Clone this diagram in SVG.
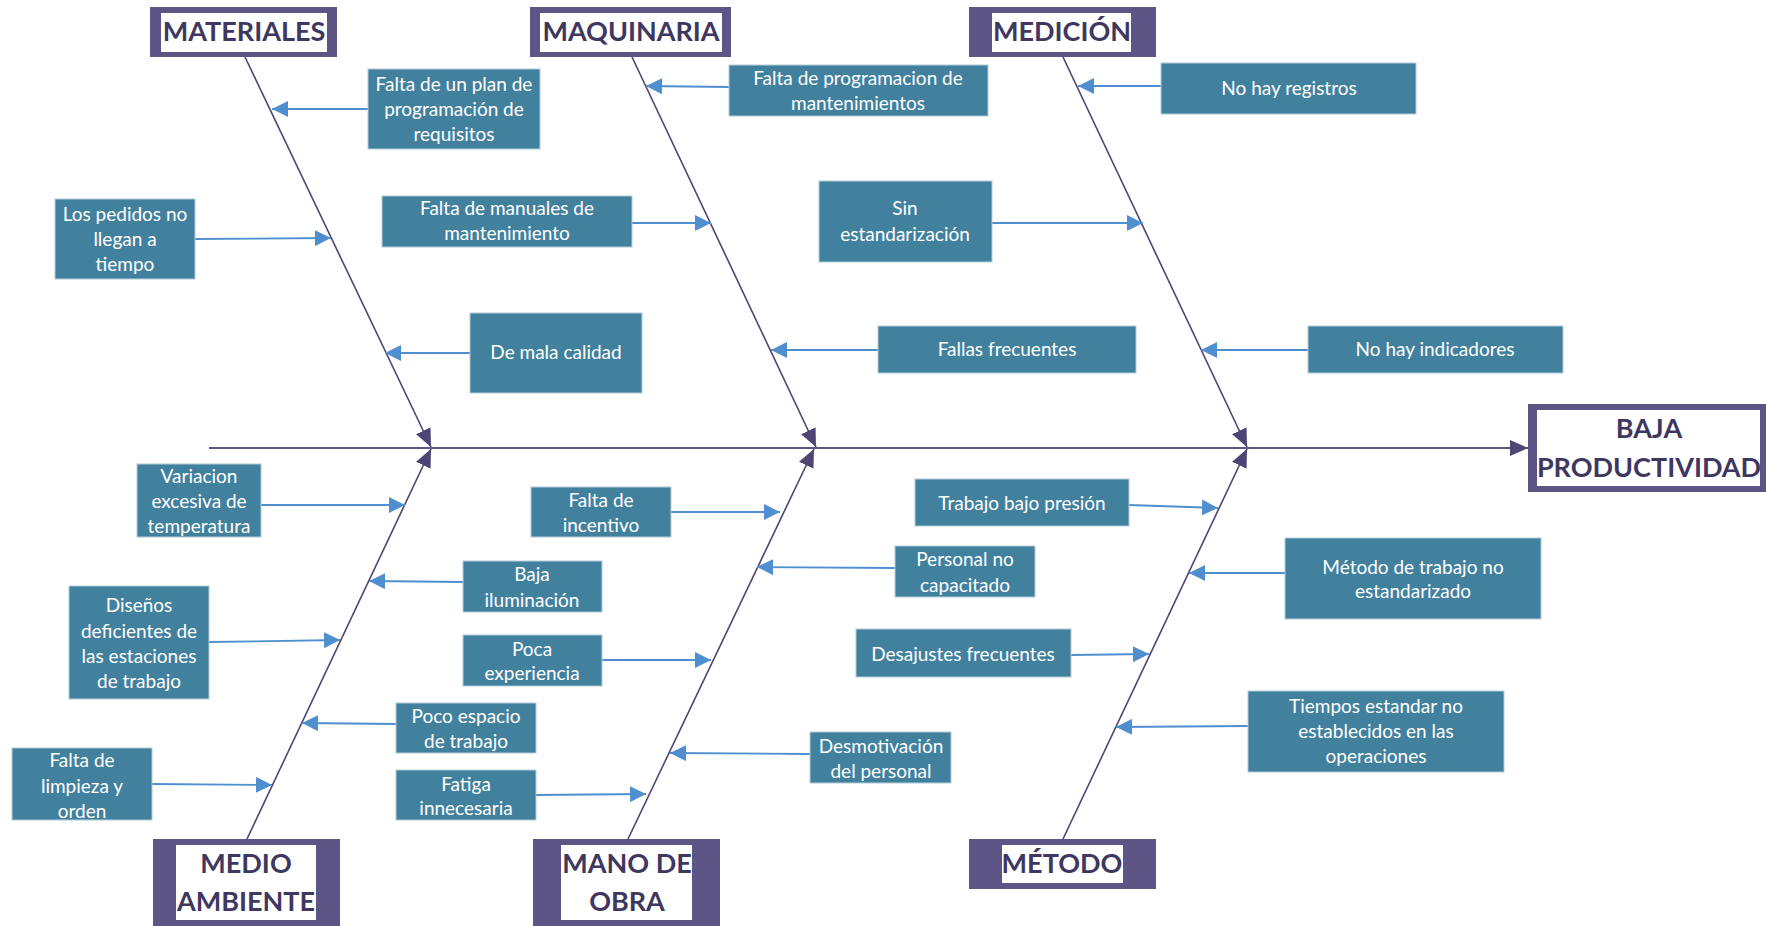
<svg xmlns="http://www.w3.org/2000/svg" width="1766" height="926" viewBox="0 0 1766 926">
<style>
.cat-o{fill:#5E5587}
.cat-i{fill:#ffffff}
.cat-t{font-family:Lato,"Liberation Sans",sans-serif;font-weight:bold;font-size:27px;fill:#3E3760;text-anchor:middle}
.box{fill:#42819E;stroke:#B4CCDB;stroke-width:1}
.bt{font-family:Lato,"Liberation Sans",sans-serif;font-size:19px;fill:#ffffff;text-anchor:middle}
.bone{stroke:#4E4574;stroke-width:1.6;fill:none;marker-end:url(#ph)}
.spine{stroke:#5E5587;stroke-width:2.2;fill:none;marker-end:url(#ph)}
.arr{stroke:#4F8FCF;stroke-width:1.8;fill:none;marker-end:url(#bh)}
</style>
<defs>
<marker id="ph" markerUnits="userSpaceOnUse" markerWidth="18" markerHeight="16" refX="18" refY="8" orient="auto"><path d="M0,0 L18,8 L0,16 z" fill="#4E4574"/></marker>
<marker id="bh" markerUnits="userSpaceOnUse" markerWidth="16" markerHeight="16" refX="16" refY="8" orient="auto"><path d="M0,0 L16,8 L0,16 z" fill="#4F8FCF"/></marker>
</defs>
<rect width="1766" height="926" fill="#ffffff"/>
<g id="connectors">
<line class="spine" x1="209" y1="448" x2="1528" y2="448"/>
<line class="bone" x1="245" y1="57" x2="431" y2="447"/>
<line class="bone" x1="632" y1="57" x2="816" y2="447"/>
<line class="bone" x1="1063" y1="57" x2="1247" y2="447"/>
<line class="bone" x1="247" y1="839" x2="431" y2="449"/>
<line class="bone" x1="628" y1="839" x2="814" y2="449"/>
<line class="bone" x1="1063" y1="839" x2="1247" y2="449"/>
<line class="arr" x1="368" y1="109" x2="272" y2="109"/>
<line class="arr" x1="195" y1="239" x2="331" y2="238"/>
<line class="arr" x1="632" y1="223" x2="711" y2="223"/>
<line class="arr" x1="470" y1="353" x2="385" y2="353"/>
<line class="arr" x1="729" y1="87" x2="646" y2="86"/>
<line class="arr" x1="992" y1="223" x2="1143" y2="223"/>
<line class="arr" x1="878" y1="350" x2="771" y2="350"/>
<line class="arr" x1="1161" y1="86" x2="1078" y2="86"/>
<line class="arr" x1="1308" y1="350" x2="1201" y2="350"/>
<line class="arr" x1="261" y1="505" x2="405" y2="505"/>
<line class="arr" x1="209" y1="642" x2="340" y2="640"/>
<line class="arr" x1="152" y1="784" x2="272" y2="785"/>
<line class="arr" x1="463" y1="582" x2="369" y2="581"/>
<line class="arr" x1="602" y1="660" x2="711" y2="660"/>
<line class="arr" x1="396" y1="724" x2="302" y2="723"/>
<line class="arr" x1="536" y1="795" x2="646" y2="794"/>
<line class="arr" x1="671" y1="512" x2="780" y2="512"/>
<line class="arr" x1="1129" y1="505" x2="1218" y2="508"/>
<line class="arr" x1="895" y1="568" x2="757" y2="567"/>
<line class="arr" x1="1071" y1="655" x2="1149" y2="654"/>
<line class="arr" x1="810" y1="754" x2="670" y2="753"/>
<line class="arr" x1="1285" y1="573" x2="1189" y2="573"/>
<line class="arr" x1="1248" y1="726" x2="1116" y2="727"/>
</g>
<g id="effect">
<rect x="1528" y="404" width="238" height="88" fill="#5E5587"/>
<rect x="1537" y="410" width="223" height="76" fill="#ffffff"/>
<text class="cat-t" x="1649" y="438">BAJA</text>
<text class="cat-t" x="1649" y="477">PRODUCTIVIDAD</text>
</g>
<g id="cat-materiales">
<rect class="cat-o" x="150" y="7" width="187" height="50"/>
<rect class="cat-i" x="161" y="13" width="166" height="39"/>
<text class="cat-t" x="244" y="41">MATERIALES</text>
</g>
<g id="cat-maquinaria">
<rect class="cat-o" x="530" y="7" width="201" height="50"/>
<rect class="cat-i" x="540" y="13" width="182" height="39"/>
<text class="cat-t" x="631" y="41">MAQUINARIA</text>
</g>
<g id="cat-medicion">
<rect class="cat-o" x="969" y="7" width="187" height="50"/>
<rect class="cat-i" x="992" y="13" width="139" height="39"/>
<text class="cat-t" x="1062" y="41">MEDICIÓN</text>
</g>
<g id="cat-medio-ambiente">
<rect class="cat-o" x="153" y="839" width="187" height="87"/>
<rect class="cat-i" x="176" y="845" width="140" height="75"/>
<text class="cat-t" x="246" y="873">MEDIO</text>
<text class="cat-t" x="246" y="911">AMBIENTE</text>
</g>
<g id="cat-mano-de-obra">
<rect class="cat-o" x="533" y="839" width="187" height="87"/>
<rect class="cat-i" x="561" y="845" width="131" height="75"/>
<text class="cat-t" x="627" y="873">MANO DE</text>
<text class="cat-t" x="627" y="911">OBRA</text>
</g>
<g id="cat-metodo">
<rect class="cat-o" x="969" y="839" width="187" height="50"/>
<rect class="cat-i" x="1002" y="845" width="121" height="38"/>
<text class="cat-t" x="1062" y="873">MÉTODO</text>
</g>
<g id="c1"><rect class="box" x="368" y="69" width="172" height="80"/><text class="bt" x="454" y="91">Falta de un plan de</text><text class="bt" x="454" y="116">programación de</text><text class="bt" x="454" y="141">requisitos</text></g>
<g id="c2"><rect class="box" x="55" y="199" width="140" height="80"/><text class="bt" x="125" y="221">Los pedidos no</text><text class="bt" x="125" y="246">llegan a</text><text class="bt" x="125" y="271">tiempo</text></g>
<g id="c3"><rect class="box" x="382" y="196" width="250" height="51"/><text class="bt" x="507" y="215">Falta de manuales de</text><text class="bt" x="507" y="240">mantenimiento</text></g>
<g id="c4"><rect class="box" x="470" y="313" width="172" height="80"/><text class="bt" x="556" y="359">De mala calidad</text></g>
<g id="c5"><rect class="box" x="729" y="65" width="259" height="51"/><text class="bt" x="858" y="85">Falta de programacion de</text><text class="bt" x="858" y="110">mantenimientos</text></g>
<g id="c6"><rect class="box" x="819" y="181" width="173" height="81"/><text class="bt" x="905" y="215">Sin</text><text class="bt" x="905" y="241">estandarización</text></g>
<g id="c7"><rect class="box" x="878" y="326" width="258" height="47"/><text class="bt" x="1007" y="356">Fallas frecuentes</text></g>
<g id="c8"><rect class="box" x="1161" y="63" width="255" height="51"/><text class="bt" x="1289" y="95">No hay registros</text></g>
<g id="c9"><rect class="box" x="1308" y="326" width="255" height="47"/><text class="bt" x="1435" y="356">No hay indicadores</text></g>
<g id="c10"><rect class="box" x="137" y="464" width="124" height="73"/><text class="bt" x="199" y="483">Variacion</text><text class="bt" x="199" y="508">excesiva de</text><text class="bt" x="199" y="533">temperatura</text></g>
<g id="c11"><rect class="box" x="69" y="586" width="140" height="113"/><text class="bt" x="139" y="612">Diseños</text><text class="bt" x="139" y="638">deficientes de</text><text class="bt" x="139" y="663">las estaciones</text><text class="bt" x="139" y="688">de trabajo</text></g>
<g id="c12"><rect class="box" x="12" y="748" width="140" height="72"/><text class="bt" x="82" y="767">Falta de</text><text class="bt" x="82" y="793">limpieza y</text><text class="bt" x="82" y="818">orden</text></g>
<g id="c13"><rect class="box" x="463" y="561" width="139" height="51"/><text class="bt" x="532" y="581">Baja</text><text class="bt" x="532" y="607">iluminación</text></g>
<g id="c14"><rect class="box" x="463" y="635" width="139" height="51"/><text class="bt" x="532" y="656">Poca</text><text class="bt" x="532" y="680">experiencia</text></g>
<g id="c15"><rect class="box" x="396" y="703" width="140" height="50"/><text class="bt" x="466" y="723">Poco espacio</text><text class="bt" x="466" y="748">de trabajo</text></g>
<g id="c16"><rect class="box" x="396" y="770" width="140" height="50"/><text class="bt" x="466" y="791">Fatiga</text><text class="bt" x="466" y="815">innecesaria</text></g>
<g id="c17"><rect class="box" x="531" y="487" width="140" height="50"/><text class="bt" x="601" y="507">Falta de</text><text class="bt" x="601" y="532">incentivo</text></g>
<g id="c18"><rect class="box" x="915" y="479" width="214" height="47"/><text class="bt" x="1022" y="510">Trabajo bajo presión</text></g>
<g id="c19"><rect class="box" x="895" y="546" width="140" height="51"/><text class="bt" x="965" y="566">Personal no</text><text class="bt" x="965" y="592">capacitado</text></g>
<g id="c20"><rect class="box" x="856" y="629" width="215" height="48"/><text class="bt" x="963" y="661">Desajustes frecuentes</text></g>
<g id="c21"><rect class="box" x="810" y="732" width="141" height="51"/><text class="bt" x="881" y="753">Desmotivación</text><text class="bt" x="881" y="778">del personal</text></g>
<g id="c22"><rect class="box" x="1285" y="538" width="256" height="81"/><text class="bt" x="1413" y="574">Método de trabajo no</text><text class="bt" x="1413" y="598">estandarizado</text></g>
<g id="c23"><rect class="box" x="1248" y="691" width="256" height="81"/><text class="bt" x="1376" y="713">Tiempos estandar no</text><text class="bt" x="1376" y="738">establecidos en las</text><text class="bt" x="1376" y="763">operaciones</text></g>
</svg>
